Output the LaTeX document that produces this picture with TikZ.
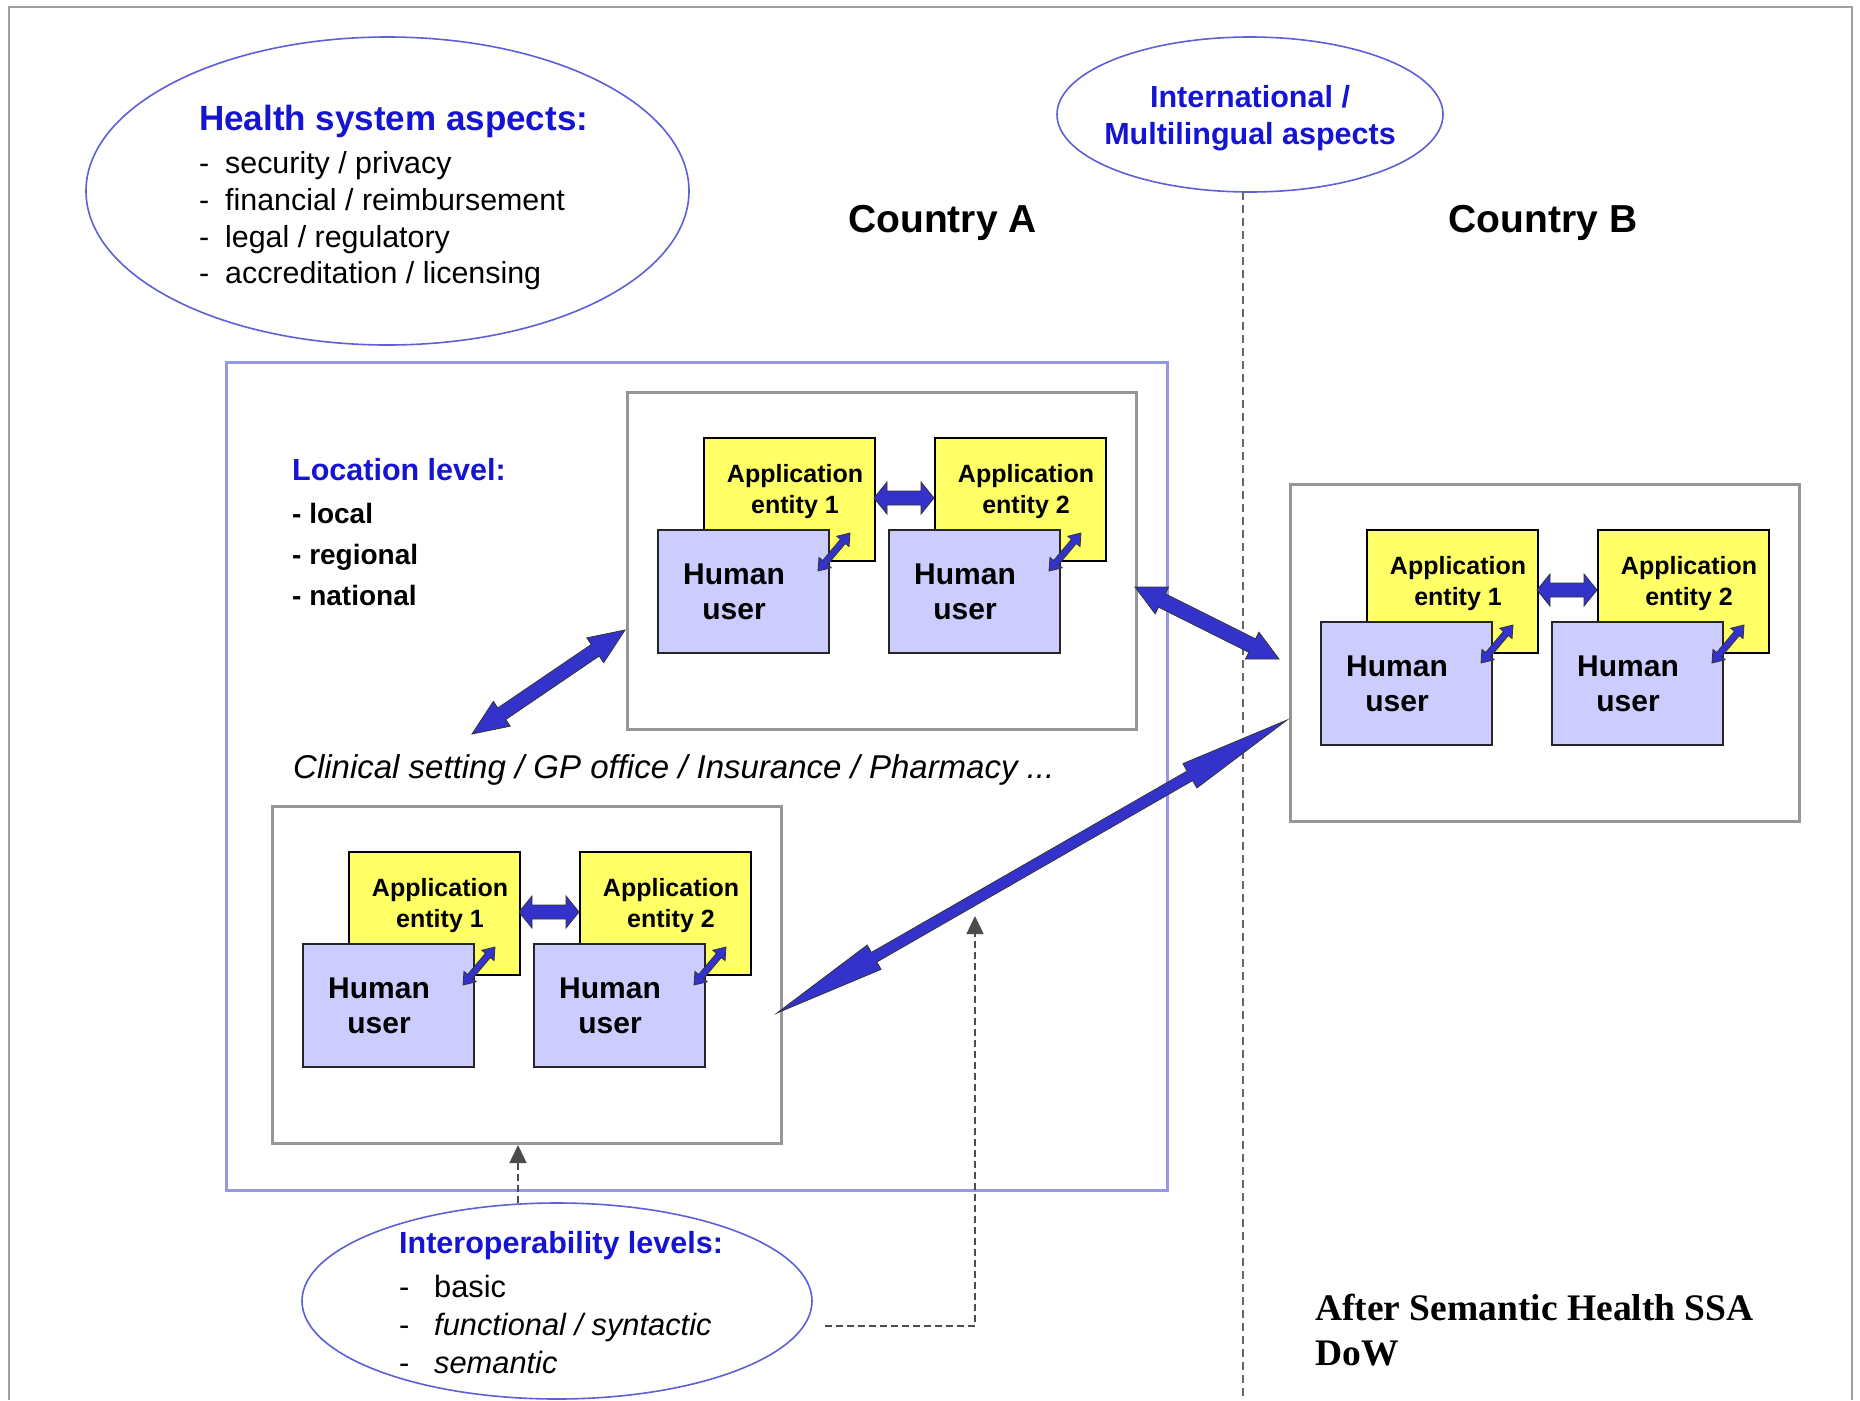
\documentclass[tikz,border=0pt]{standalone}
\usepackage{fontspec}
\setmainfont{Liberation Sans}
\newfontfamily\timesfont{Liberation Serif}
\usetikzlibrary{shapes.geometric,arrows.meta,calc}

\definecolor{txtblue}{RGB}{20,20,210}
\definecolor{ovalblue}{RGB}{95,95,215}
\definecolor{frameblue}{RGB}{150,150,235}
\definecolor{boxgray}{RGB}{150,150,150}
\definecolor{framegray}{RGB}{160,160,160}
\definecolor{appyellow}{RGB}{255,255,102}
\definecolor{humlav}{RGB}{204,204,255}
\definecolor{arrowblue}{RGB}{51,51,204}

\tikzset{
  frameline/.style={draw=framegray, line width=2.5pt},
  locframe/.style={draw=frameblue, line width=2.5pt, rectangle, anchor=north west, inner sep=0pt},
  gbox/.style={draw=boxgray, line width=2.5pt, fill=white, rectangle, anchor=north west,
    minimum width=509pt, minimum height=337pt, inner sep=0pt},
  appbox/.style={draw=black, line width=1.6pt, fill=appyellow, rectangle, anchor=north west,
    minimum width=171pt, minimum height=123pt, inner sep=0pt},
  humbox/.style={draw=black!85, line width=1.6pt, fill=humlav, rectangle, anchor=north west,
    minimum width=171pt, minimum height=123pt, inner sep=0pt},
  apptext/.style={anchor=base, align=center, inner sep=0pt, font=\bfseries\fontsize{25}{31}\selectfont},
  humtext/.style={anchor=base, align=center, inner sep=0pt, font=\bfseries\fontsize{30}{35}\selectfont},
  oval/.style={ellipse, draw=ovalblue, line width=1.6pt, inner sep=0pt},
  fat/.style={fill=arrowblue, draw=black!80, line width=0.8pt, line join=miter},
  divider/.style={draw=black!60, line width=1.4pt, dash pattern=on 8pt off 5pt},
  dasharrow/.style={draw=black!70, line width=1.5pt, dash pattern=on 7pt off 4pt,
    -{Triangle[length=18pt,width=17pt]}},
  txt/.style={anchor=base west, inner sep=0pt},
  ctxt/.style={anchor=base, inner sep=0pt, align=center},
}

\newcommand{\fatarrow}[5]{%
  \path[fat] (#1) -- ($(#1)!#5!(#2)!#4!90:(#2)$) -- ($(#1)!#5!(#2)!#3!90:(#2)$)
    -- ($(#2)!#5!(#1)!#3!-90:(#1)$) -- ($(#2)!#5!(#1)!#4!-90:(#1)$) -- (#2)
    -- ($(#2)!#5!(#1)!#4!90:(#1)$) -- ($(#2)!#5!(#1)!#3!90:(#1)$)
    -- ($(#1)!#5!(#2)!#3!-90:(#2)$) -- ($(#1)!#5!(#2)!#4!-90:(#2)$) -- cycle;}

\newcommand{\appgroup}[3]{%
  \begin{scope}[shift={(#2,#3)}]
    \node[gbox] (#1box) at (0,0) {};
    \node[appbox] (#1app1) at (77,46) {};
    \node[appbox] (#1app2) at (308,46) {};
    \node[humbox] (#1hum1) at (31,138) {};
    \node[humbox] (#1hum2) at (262,138) {};
    \node[apptext] (#1t1) at (169,122) {Application\\entity 1};
    \node[apptext] (#1t2) at (400,122) {Application\\entity 2};
    \node[humtext] (#1h1) at (108,228) {Human\\user};
    \node[humtext] (#1h2) at (339,228) {Human\\user};
    \coordinate (#1d1) at (248,107);
    \coordinate (#1d2) at (308,107);
    \coordinate (#1s1a) at (192,180);
    \coordinate (#1s1b) at (224,142);
    \coordinate (#1s2a) at (423,180);
    \coordinate (#1s2b) at (455,142);
  \end{scope}
  \fatarrow{#1d1}{#1d2}{7pt}{16pt}{13pt}
  \fatarrow{#1s1a}{#1s1b}{3.2pt}{8pt}{11pt}
  \fatarrow{#1s2a}{#1s2b}{3.2pt}{8pt}{11pt}
}

\begin{document}
\begin{tikzpicture}[x=1pt,y=-1pt]
\useasboundingbox (0,0) rectangle (1860,1400);
\fill[white] (0,0) rectangle (1860,1400);

% outer frame
\coordinate (fbl) at (9,1400);
\coordinate (ftl) at (9,7);
\coordinate (ftr) at (1852,7);
\coordinate (fbr) at (1852,1400);
\draw[frameline] (fbl) -- (ftl) -- (ftr) -- (fbr);

% ellipses
\node[oval, minimum width=603pt, minimum height=308pt] (health) at (387.5,191) {};
\node[oval, minimum width=386pt, minimum height=155pt] (intl) at (1250,114.5) {};
\node[oval, minimum width=510pt, minimum height=196pt] (interop) at (557,1301) {};

% divider
\coordinate (divtop) at (1243,192);
\coordinate (divbot) at (1243,1400);
\draw[divider] (divtop) -- (divbot);

% location frame
\node[locframe, minimum width=941pt, minimum height=828pt] (loc) at (225,361) {};

% groups
\appgroup{A}{626}{391}
\appgroup{B}{1289}{483}
\appgroup{C}{271}{805}

% big arrows
\coordinate (la1) at (472,734);
\coordinate (la2) at (625,630);
\fatarrow{la1}{la2}{7pt}{15pt}{36pt}
\coordinate (ra1) at (1135,587);
\coordinate (ra2) at (1279,659);
\fatarrow{ra1}{ra2}{7.5pt}{15pt}{30pt}
\coordinate (lg1) at (777,1013);
\coordinate (lg2) at (1287,720);
\fatarrow{lg1}{lg2}{5.5pt}{14pt}{112pt}

% dashed arrows
\coordinate (d1a) at (518,1203);
\coordinate (d1b) at (518,1145);
\draw[dasharrow] (d1a) -- (d1b);
\coordinate (d2a) at (825,1326);
\coordinate (d2c) at (975,1326);
\coordinate (d2b) at (975,916);
\draw[dasharrow] (d2a) -- (d2c) -- (d2b);

% health system text
\node[txt, text=txtblue, font=\bfseries\fontsize{35}{40}\selectfont] (hst) at (199,130) {Health system aspects:};
\begin{scope}[every node/.style={txt, font=\fontsize{30.4}{36}\selectfont}]
  \node (hs1) at (199,173) {\makebox[26pt][l]{-}security / privacy};
  \node (hs2) at (199,210) {\makebox[26pt][l]{-}financial / reimbursement};
  \node (hs3) at (199,247) {\makebox[26pt][l]{-}legal / regulatory};
  \node (hs4) at (199,283) {\makebox[26pt][l]{-}accreditation / licensing};
\end{scope}

% international
\node[ctxt, text=txtblue, font=\bfseries\fontsize{30.5}{37}\selectfont] (intlt) at (1250,144) {International /\\Multilingual aspects};

% countries
\node[ctxt, font=\bfseries\fontsize{39}{45}\selectfont] (ca) at (942.5,232) {Country A};
\node[ctxt, font=\bfseries\fontsize{39}{45}\selectfont] (cb) at (1543,232) {Country B};

% location level
\node[txt, text=txtblue, font=\bfseries\fontsize{30.5}{36}\selectfont] (llt) at (292,480) {Location level:};
\begin{scope}[every node/.style={txt, font=\bfseries\fontsize{28}{34}\selectfont}]
  \node (ll1) at (292,523) {- local};
  \node (ll2) at (292,564) {- regional};
  \node (ll3) at (292,605) {- national};
\end{scope}

% clinical setting
\node[txt, font=\itshape\fontsize{33}{38}\selectfont] (clin) at (293,778) {Clinical setting / GP office / Insurance / Pharmacy ...};

% interoperability
\node[txt, text=txtblue, font=\bfseries\fontsize{30.5}{36}\selectfont] (iot) at (399,1253) {Interoperability levels:};
\begin{scope}[every node/.style={txt, font=\fontsize{30.8}{36}\selectfont}]
  \node (io1) at (399,1297) {\makebox[35pt][l]{-}basic};
  \node (io2) at (399,1335) {\makebox[35pt][l]{-}\textit{functional / syntactic}};
  \node (io3) at (399,1373) {\makebox[35pt][l]{-}\textit{semantic}};
\end{scope}

% source note
\node[txt, font=\timesfont\bfseries\fontsize{37.5}{45}\selectfont] (src1) at (1315,1320) {After Semantic Health SSA};
\node[txt, font=\timesfont\bfseries\fontsize{37.5}{45}\selectfont] (src2) at (1315,1365) {DoW};
\end{tikzpicture}
\end{document}
